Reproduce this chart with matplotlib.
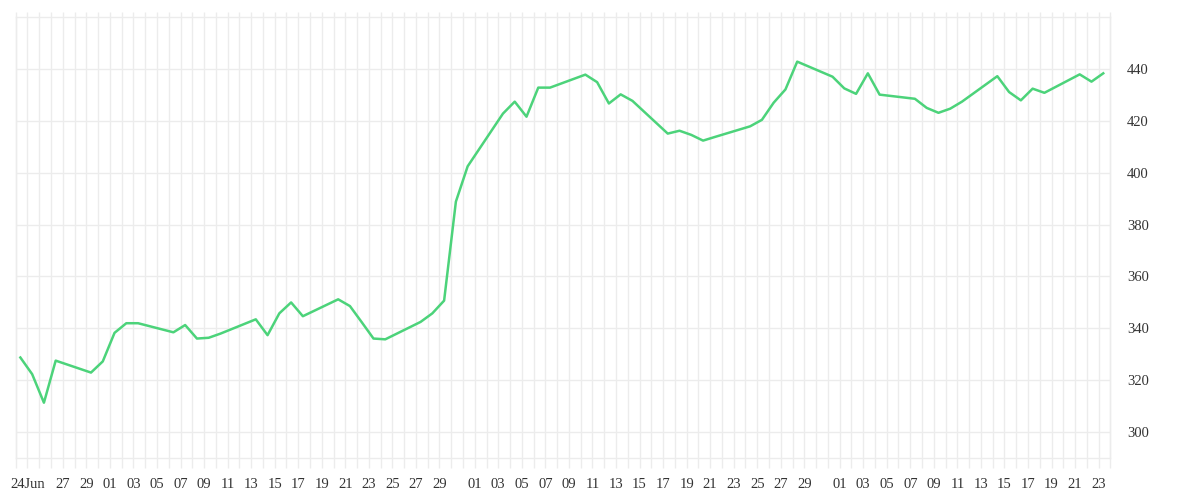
import matplotlib
matplotlib.use("Agg")
import matplotlib.pyplot as plt
import pandas as pd

# trading days (weekdays), sampled at market open
trade_days = pd.bdate_range("2020-06-23 09:30", "2020-09-23 09:30", normalize=False)

jun_prices = [328.8, 322.4, 311.4, 327.6, 323.0, 327.3]
jul_prices = [338.3, 342.0, 342.0, 338.5, 341.3, 336.1, 336.4, 338.0,
              343.5, 337.4, 345.8, 350.0, 344.7, 351.2, 348.6, 342.4,
              336.1, 335.8, 342.5, 345.8, 350.7, 388.8, 402.4]
aug_prices = [422.7, 427.3, 421.5, 432.7, 432.7, 437.7, 434.8, 426.6,
              430.1, 427.6, 415.0, 416.1, 414.5, 412.3, 413.7, 417.8,
              420.3, 426.9, 432.0, 442.7, 436.9]
sep_prices = [432.4, 430.3, 438.2, 430.0, 428.4, 424.9, 423.0, 424.6,
              427.3, 437.1, 431.0, 427.8, 432.3, 430.7, 437.8, 435.0, 438.2]
prices = jun_prices + jul_prices + aug_prices + sep_prices

y_ticks = [300, 320, 340, 360, 380, 400, 420, 440]
x_start, x_end = pd.Timestamp("2020-06-23"), pd.Timestamp("2020-09-24")

# x labels: first day gets the month, then every odd day (31st skipped)
label_days = [pd.Timestamp("2020-06-24")] + [
    d for d in pd.date_range("2020-06-27", "2020-09-23")
    if d.day % 2 == 1 and d.day != 31
]
label_text = ["24Jun"] + [d.strftime("%d") for d in label_days[1:]]

GRID = "#ececec"
TEXT = "#333333"
LINE = "#4cd37a"

plt.rcParams["font.family"] = ["Liberation Serif", "DejaVu Serif"]

fig = plt.figure(figsize=(12, 5), dpi=100)
ax = fig.add_axes([0.0131, 0.0834, 0.9122, 0.8832])

# daily vertical grid, a little longer than the plot area
ax.vlines(pd.date_range(x_start, x_end), -0.022, 1.01,
          transform=ax.get_xaxis_transform(), color=GRID, lw=1,
          clip_on=False, zorder=0)
ax.yaxis.grid(True, color=GRID, lw=1, zorder=0)
ax.set_axisbelow(True)

ax.plot(trade_days, prices, color=LINE, lw=1.8, zorder=3)

ax.set_xlim(x_start, x_end)
ax.set_ylim(290, 460)

ax.set_xticks(label_days)
ax.set_xticklabels(label_text)
ax.set_yticks(y_ticks)
ax.yaxis.tick_right()

ax.tick_params(axis="both", length=0, labelsize=10.5, labelcolor=TEXT)
ax.tick_params(axis="x", pad=14)
ax.tick_params(axis="y", pad=12)

for spine in ax.spines.values():
    spine.set_color(GRID)
    spine.set_linewidth(1)

fig.savefig("out.png", dpi=100)
